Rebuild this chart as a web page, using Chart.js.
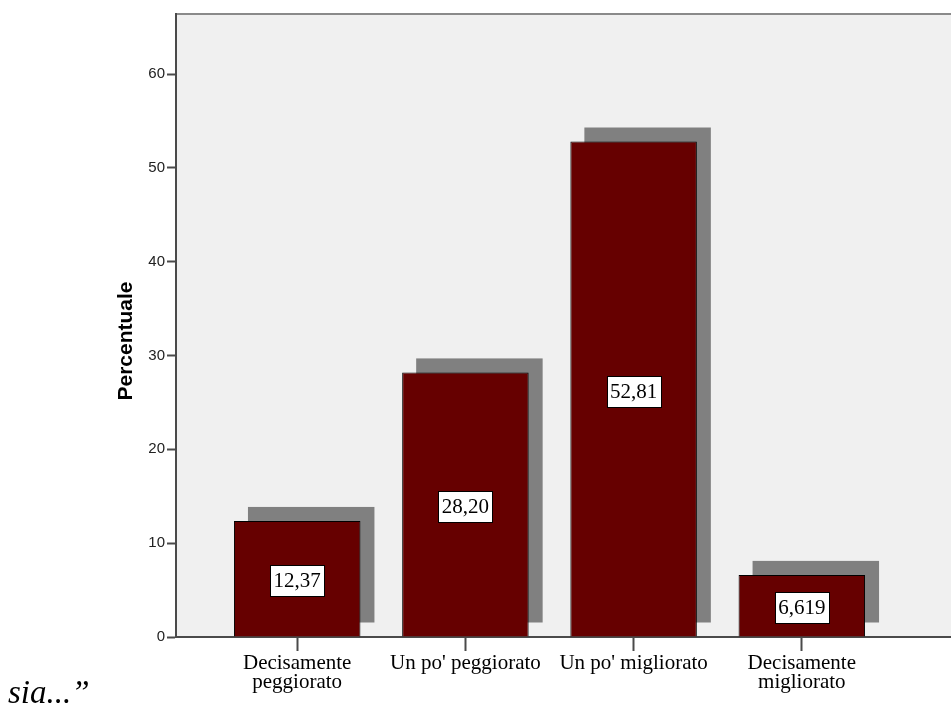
<!DOCTYPE html>
<html>
<head>
<meta charset="utf-8">
<script src="https://cdn.jsdelivr.net/npm/chart.js@4/dist/chart.umd.min.js"></script>
<style>
    body { margin: 0; background: #fff; overflow: hidden; }
    #wrap { position: relative; width: 951px; height: 711px; }
    #tail {
        position: absolute; left: 8px; top: 676px;
        font: italic 33px 'Liberation Serif', 'Times New Roman', serif;
        line-height: 33px; color: #000; white-space: nowrap;
    }
</style>
</head>
<body>
<div id="wrap">
    <canvas id="chart" width="951" height="711"></canvas>
    <div id="tail">sia...”</div>
</div>
<script>
const categories = [
    ['Decisamente', 'peggiorato'],
    "Un po' peggiorato",
    "Un po' migliorato",
    ['Decisamente', 'migliorato']
];
const percentages = [12.37, 28.20, 52.81, 6.619];
const yTicks = [0, 10, 20, 30, 40, 50, 60];
const yTitle = 'Percentuale';

// SPSS style: 4 significant digits, comma as decimal separator
function formatValue(v) {
    return v.toPrecision(4).replace('.', ',');
}

const plotBackground = {
    id: 'plotBackground',
    beforeDraw(chart) {
        const { ctx, chartArea: a } = chart;
        ctx.save();
        ctx.fillStyle = '#f0f0f0';
        ctx.fillRect(a.left, a.top, a.right - a.left, a.bottom - a.top);
        ctx.fillStyle = '#8a8a8a';
        ctx.fillRect(a.left - 1, a.top - 1, a.right - a.left + 1, 2);
        ctx.restore();
    }
};

const barShadow = {
    id: 'barShadow',
    beforeDatasetsDraw(chart) {
        const ctx = chart.ctx;
        ctx.save();
        ctx.fillStyle = '#808080';
        chart.getDatasetMeta(0).data.forEach(bar => {
            const { x, y, base, width } = bar.getProps(['x', 'y', 'base', 'width'], true);
            ctx.fillRect(x - width / 2 + 14, y - 14, width, base - y);
        });
        ctx.restore();
    }
};

const valueBoxes = {
    id: 'valueBoxes',
    afterDatasetsDraw(chart) {
        const ctx = chart.ctx;
        ctx.save();
        ctx.font = "21px 'Liberation Serif', 'Times New Roman', serif";
        ctx.textAlign = 'center';
        ctx.textBaseline = 'middle';
        chart.getDatasetMeta(0).data.forEach((bar, i) => {
            const { x, y, base } = bar.getProps(['x', 'y', 'base'], true);
            const text = formatValue(percentages[i]);
            const w = Math.round(ctx.measureText(text).width) + 7;
            const h = 31;
            const cy = (y + base) / 2 + 2;
            const bx = Math.round(x - w / 2) + 0.5;
            const by = Math.round(cy - h / 2) + 0.5;
            ctx.fillStyle = '#fff';
            ctx.fillRect(bx, by, w, h);
            ctx.strokeStyle = '#000';
            ctx.lineWidth = 1;
            ctx.strokeRect(bx, by, w, h);
            ctx.fillStyle = '#000';
            ctx.fillText(text, x, cy + 1);
        });
        ctx.restore();
    }
};

const axisTitle = {
    id: 'axisTitle',
    afterDraw(chart) {
        const ctx = chart.ctx;
        ctx.save();
        ctx.translate(126, 341);
        ctx.rotate(-Math.PI / 2);
        ctx.font = "bold 21px 'Liberation Sans', Arial, sans-serif";
        ctx.fillStyle = '#000';
        ctx.textAlign = 'center';
        ctx.textBaseline = 'middle';
        ctx.fillText(yTitle, 0, 0);
        ctx.restore();
    }
};

new Chart(document.getElementById('chart'), {
    type: 'bar',
    data: {
        datasets: [{
            label: yTitle,
            data: percentages.map((v, i) => ({ x: i, y: v })),
            backgroundColor: '#660000',
            borderColor: '#000',
            borderWidth: 1,
            barPercentage: 0.752,
            categoryPercentage: 1
        }]
    },
    options: {
        responsive: false,
        animation: false,
        layout: { padding: { top: 14, left: 0, right: 0, bottom: 0 } },
        plugins: {
            legend: { display: false },
            tooltip: { enabled: false }
        },
        scales: {
            x: {
                type: 'linear',
                offset: false,
                min: -0.7206,
                max: 3.887,
                afterBuildTicks: scale => {
                    scale.ticks = categories.map((c, i) => ({ value: i }));
                },
                afterFit: scale => { scale.height = 74; },
                border: { display: true, color: '#4a4a4a', width: 2 },
                grid: {
                    offset: false,
                    drawOnChartArea: false,
                    drawTicks: true,
                    tickLength: 14,
                    tickWidth: 2,
                    color: '#4a4a4a'
                },
                ticks: {
                    autoSkip: false,
                    maxRotation: 0,
                    padding: 3,
                    color: '#000',
                    font: { family: "'Liberation Serif', 'Times New Roman', serif", size: 21, lineHeight: 0.9 },
                    callback: value => categories[value]
                }
            },
            y: {
                min: 0,
                max: 66.4,
                afterBuildTicks: scale => {
                    scale.ticks = yTicks.map(v => ({ value: v }));
                },
                afterFit: scale => { scale.width = 176; },
                border: { display: true, color: '#4a4a4a', width: 2 },
                grid: {
                    drawOnChartArea: false,
                    drawTicks: true,
                    tickLength: 9,
                    tickWidth: 2,
                    color: '#4a4a4a'
                },
                ticks: {
                    padding: 2,
                    color: '#222',
                    font: { family: "'Liberation Sans', Arial, sans-serif", size: 15 }
                }
            }
        }
    },
    plugins: [plotBackground, barShadow, valueBoxes, axisTitle]
});
</script>
</body>
</html>
